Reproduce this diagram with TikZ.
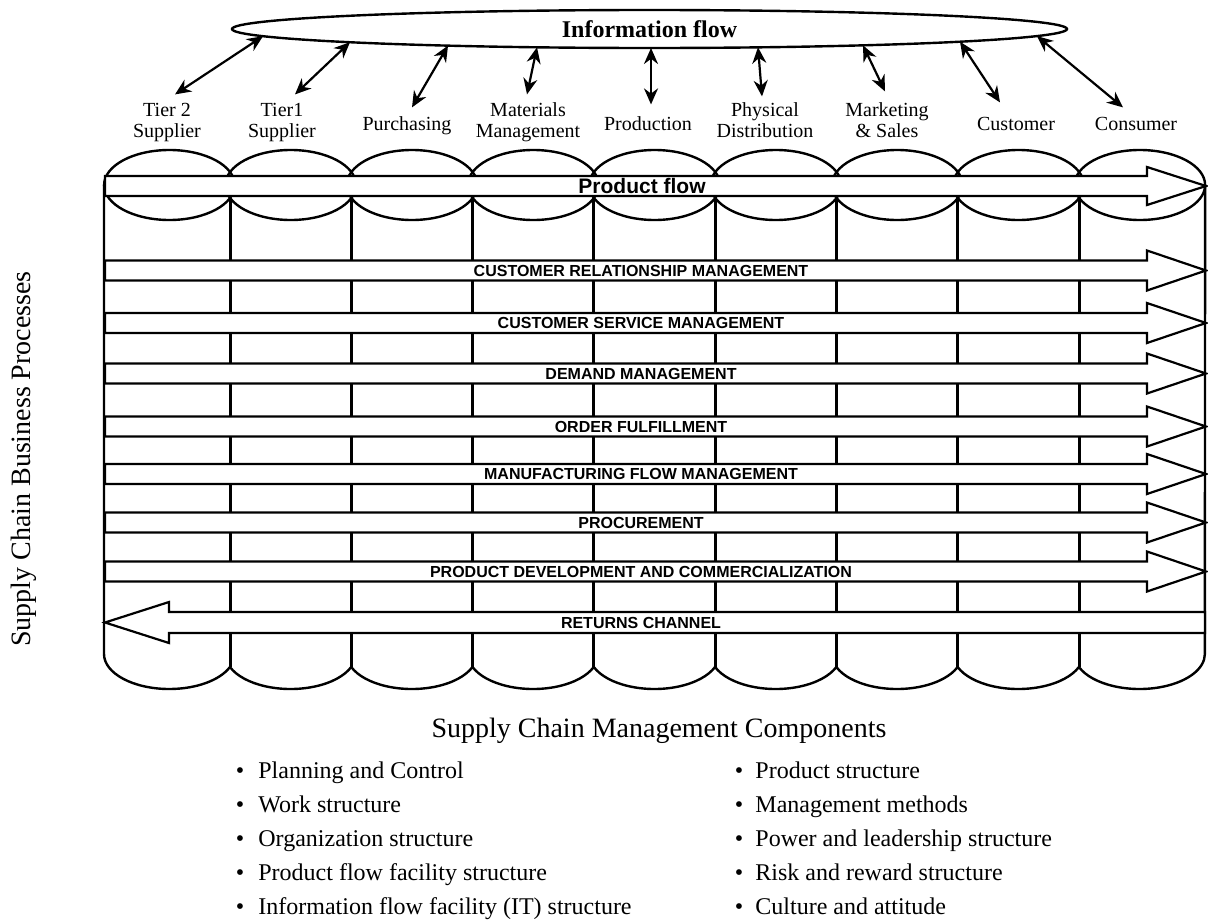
\documentclass[tikz,border=0pt]{standalone}
\usepackage{fontspec}
\setmainfont{Liberation Serif}
\setsansfont{Liberation Sans}
\usetikzlibrary{arrows.meta,shapes.geometric}
\begin{document}
\begin{tikzpicture}[x=0.5pt,y=0.5pt,
  outline/.style={line width=1.2pt, line join=round},
  divider/.style={line width=1.5pt},
  band/.style={draw, line width=1.1pt, fill=white, line join=miter},
  bandtext/.style={font=\sffamily\bfseries\fontsize{8}{9}\selectfont, inner sep=0pt},
  unit/.style={font=\fontsize{10}{10.5}\selectfont, align=center, inner sep=0pt},
  link/.style={line width=1.1pt, {Stealth[length=8pt,width=7pt]}-{Stealth[length=8pt,width=7pt]}},
  item/.style={font=\fontsize{12}{14}\selectfont, inner sep=0pt, anchor=base west},
  dot/.style={font=\fontsize{12}{14}\selectfont, inner sep=0pt, anchor=base},
  heading/.style={font=\fontsize{14}{16}\selectfont, inner sep=0pt},
]
\useasboundingbox (0,0) rectangle (1208,-921);
\fill[white] (0,0) rectangle (1208,-921);

% ---- information flow ellipse ----
\node[draw, ellipse, line width=1.2pt, minimum width=417.5pt, minimum height=19pt,
      inner sep=0pt, font=\bfseries\fontsize{12}{14}\selectfont] (info) at (649.5,-29) {Information flow};

% ---- supply chain members ----
\node[unit] (tier2) at (167,-122.8) {\strut Tier 2\\\strut Supplier};
\node[unit] (tier1) at (282,-122.8) {\strut Tier1\\\strut Supplier};
\node[unit] (purch) at (407,-126.3) {\strut Purchasing};
\node[unit] (matl)  at (528,-122.8) {\strut Materials\\\strut Management};
\node[unit] (prod)  at (648,-126.3) {\strut Production};
\node[unit] (phys)  at (765,-122.8) {\strut Physical\\\strut Distribution};
\node[unit] (mkt)   at (887,-122.8) {\strut Marketing\\\strut \& Sales};
\node[unit] (cust)  at (1016,-126.3) {\strut Customer};
\node[unit] (cons)  at (1136,-126.3) {\strut Consumer};

% points on the lower rim of the information ellipse
\coordinate (e1) at (263,-36.2);
\coordinate (e2) at (350,-42.2);
\coordinate (e3) at (448,-45.6);
\coordinate (e4) at (537,-47.3);
\coordinate (e5) at (651,-48);
\coordinate (e6) at (758,-47.3);
\coordinate (e7) at (863,-45.3);
\coordinate (e8) at (960,-41.7);
\coordinate (e9) at (1037,-36.1);

\draw[link] (e1) -- ([xshift=4pt,yshift=3.5pt]tier2.north);
\draw[link] (e2) -- ([xshift=6.5pt,yshift=3.5pt]tier1.north);
\draw[link] (e3) -- ([xshift=2.5pt,yshift=4pt]purch.north);
\draw[link] (e4) -- ([xshift=-0.5pt,yshift=3.5pt]matl.north);
\draw[link] (e5) -- ([xshift=1.5pt,yshift=5.5pt]prod.north);
\draw[link] (e6) -- ([xshift=-1.5pt,yshift=2.5pt]phys.north);
\draw[link] (e7) -- ([xshift=-1pt,yshift=5pt]mkt.north);
\draw[link] (e8) -- ([xshift=-8pt,yshift=6.5pt]cust.north);
\draw[link] (e9) -- ([xshift=-6.5pt,yshift=4pt]cons.north);

% ---- the row of drums ----
% top rims
\foreach \i in {0,...,8}
  \draw[outline] ({169.4+121.3*\i},-185) ellipse [x radius=32.65pt, y radius=17.5pt];
% inner walls between drums
\foreach \k in {0,...,7}
  \draw[divider] ({230+121.3*\k},-198) -- ({230+121.3*\k},-667);
% outer walls and bottom rims
\draw[outline] (104,-185) -- (104,-654)
  arc[start angle=180, end angle=338.23, x radius=32.65pt, y radius=17.5pt]
  \foreach \i in {1,...,7} { arc[start angle=201.77, end angle=338.23, x radius=32.65pt, y radius=17.5pt] }
  arc[start angle=201.77, end angle=360, x radius=32.65pt, y radius=17.5pt]
  -- (1205.1,-185);

% ---- product flow ----
\draw[band] (105,-176) -- (1147,-176) -- (1147,-167) -- (1206,-186)
  -- (1147,-205) -- (1147,-196) -- (105,-196) -- cycle;
\node[inner sep=0pt, font=\sffamily\bfseries\fontsize{10.5}{12}\selectfont] (pflow) at (642,-186) {Product flow};

% ---- business processes ----
\foreach \yc/\nm/\txt in {
    270.5/crm/CUSTOMER RELATIONSHIP MANAGEMENT,
    323/csm/CUSTOMER SERVICE MANAGEMENT,
    373.5/dem/DEMAND MANAGEMENT,
    426.5/ord/ORDER FULFILLMENT,
    474/mfg/MANUFACTURING FLOW MANAGEMENT,
    522.5/proc/PROCUREMENT,
    571.5/pdc/PRODUCT DEVELOPMENT AND COMMERCIALIZATION} {
  \draw[band] (105,{10-\yc}) -- (1147,{10-\yc}) -- (1147,{20-\yc}) -- (1206,-\yc)
    -- (1147,{-20-\yc}) -- (1147,{-10-\yc}) -- (105,{-10-\yc}) -- cycle;
  \node[bandtext] (\nm) at (641,-\yc) {\txt};
}
\draw[band] (105,-622.5) -- (169,-602) -- (169,-612) -- (1205,-612)
  -- (1205,-633) -- (169,-633) -- (169,-643) -- cycle;
\node[bandtext] (ret) at (641,-622.5) {RETURNS CHANNEL};

% ---- side caption ----
\node[heading, rotate=90] (sidecap) at (24,-459) {Supply Chain Business Processes};

% ---- management components ----
\node[heading, anchor=base] (comp) at (659,-737) {Supply Chain Management Components};

\node[dot] (b1) at (240,-778) {\textbullet};
\node[item] (l1) at (258,-778) {Planning and Control};
\node[dot] (b2) at (240,-812) {\textbullet};
\node[item] (l2) at (258,-812) {Work structure};
\node[dot] (b3) at (240,-846) {\textbullet};
\node[item] (l3) at (258,-846) {Organization structure};
\node[dot] (b4) at (240,-880) {\textbullet};
\node[item] (l4) at (258,-880) {Product flow facility structure};
\node[dot] (b5) at (240,-914) {\textbullet};
\node[item] (l5) at (258,-914) {Information flow facility (IT) structure};

\node[dot] (c1) at (739,-778) {\textbullet};
\node[item] (r1) at (755,-778) {Product structure};
\node[dot] (c2) at (739,-812) {\textbullet};
\node[item] (r2) at (755,-812) {Management methods};
\node[dot] (c3) at (739,-846) {\textbullet};
\node[item] (r3) at (755,-846) {Power and leadership structure};
\node[dot] (c4) at (739,-880) {\textbullet};
\node[item] (r4) at (755,-880) {Risk and reward structure};
\node[dot] (c5) at (739,-914) {\textbullet};
\node[item] (r5) at (755,-914) {Culture and attitude};
\end{tikzpicture}
\end{document}
